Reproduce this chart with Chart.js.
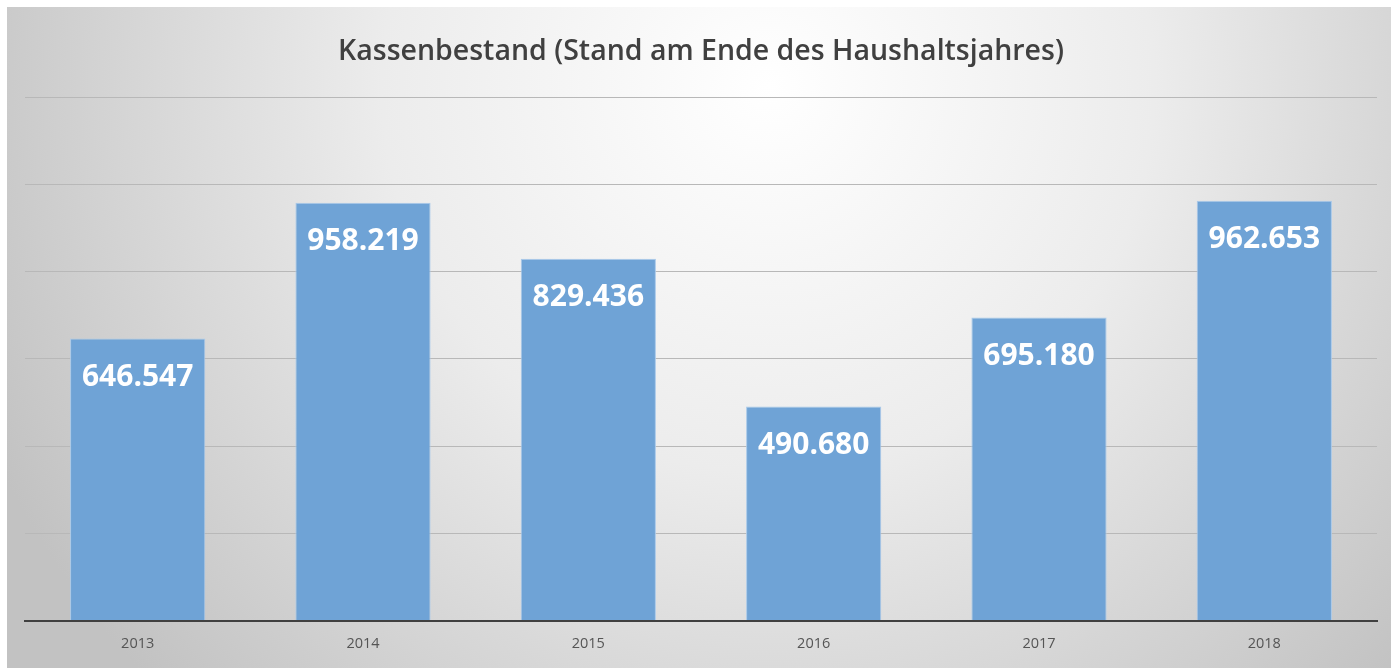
<!DOCTYPE html>
<html>
<head>
<meta charset="utf-8">
<script src="https://cdn.jsdelivr.net/npm/chart.js@4"></script>
<style>
  html, body { margin: 0; padding: 0; background: #fff; overflow: hidden; }
  #cashChart { position: absolute; left: 7px; top: 7px; }
</style>
</head>
<body>
<canvas id="cashChart" width="1384" height="661"></canvas>
<script>
var years = ["2013", "2014", "2015", "2016", "2017", "2018"];
var balances = [646547, 958219, 829436, 490680, 695180, 962653];
var axisMax = 1200000;
var axisStep = 200000;

function formatDE(v) {
    return String(v).replace(/\B(?=(\d{3})+(?!\d))/g, ".");
}

// grey radial backdrop like the office chart style
const backdrop = {
    id: "backdrop",
    beforeDraw(chart) {
        const ctx = chart.ctx;
        const w = chart.width, h = chart.height;
        const g = ctx.createRadialGradient(w * 0.55, h * 0.12, 0, w * 0.55, h * 0.12, w * 0.62);
        g.addColorStop(0, "#ffffff");
        g.addColorStop(0.45, "#ececec");
        g.addColorStop(1, "#c2c2c2");
        ctx.save();
        ctx.fillStyle = g;
        ctx.fillRect(0, 0, w, h);
        ctx.restore();
    }
};

// values written inside the top of each bar
const barLabels = {
    id: "barLabels",
    afterDatasetsDraw(chart) {
        const ctx = chart.ctx;
        const meta = chart.getDatasetMeta(0);
        ctx.save();
        ctx.fillStyle = "#ffffff";
        ctx.font = "bold 30px 'Open Sans'";
        ctx.textAlign = "center";
        ctx.textBaseline = "middle";
        meta.data.forEach((bar, i) => {
            ctx.fillText(formatDE(balances[i]), bar.x, bar.y + 39);
        });
        ctx.restore();
    }
};

const data = {
    labels: years,
    datasets: [
        {
            label: "Kassenbestand",
            backgroundColor: "#6fa3d6",
            borderColor: "#a9c9ea",
            borderWidth: 1,
            categoryPercentage: 0.6,
            barPercentage: 1,
            data: balances
        },
    ],
};

const config = {
    type: "bar",
    data: data,
    options: {
        responsive: false,
        animation: false,
        layout: { padding: { left: 18, right: 14, bottom: 0, top: 0 } },
        plugins: {
            legend: { display: false },
            tooltip: { enabled: false },
            title: {
                display: true,
                text: "Kassenbestand (Stand am Ende des Haushaltsjahres)",
                color: "#404040",
                font: { family: "'Open Sans'", size: 28.5, weight: "600" },
                padding: { top: 28, bottom: 28 }
            }
        },
        scales: {
            x: {
                grid: { display: false, drawTicks: false },
                border: { display: true, color: "#404040", width: 2 },
                ticks: { color: "#555555", font: { family: "'Open Sans'", size: 14.5 }, padding: 15 }
            },
            y: {
                min: 0,
                max: axisMax,
                ticks: { display: false, stepSize: axisStep },
                grid: { color: "#b8b8b8", lineWidth: 1, drawTicks: false },
                border: { display: false }
            }
        }
    },
    plugins: [backdrop, barLabels]
};

const myChart = new Chart(document.getElementById("cashChart"), config);
</script>
</body>
</html>
